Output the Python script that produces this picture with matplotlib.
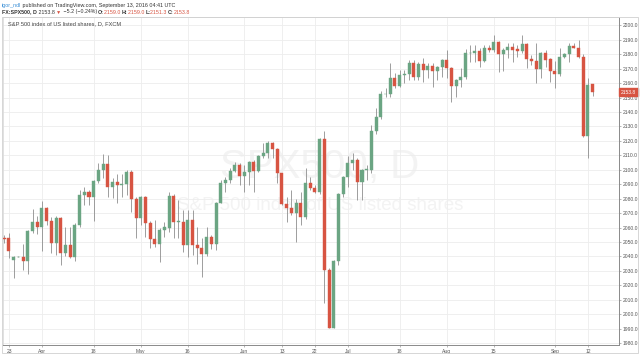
import matplotlib
matplotlib.use("Agg")
import numpy as np
import pandas as pd
import matplotlib.pyplot as plt
from matplotlib.patches import Rectangle

# FXCM SPX500 daily bars, 22 Mar - 13 Sep 2016 (CFD trades on US holidays too)
first_day = "2016-03-22"
last_day = "2016-09-13"

opens = [2052.5, 2052.6, 2037.8, 2039.6, 2039.6, 2036.9, 2057.6, 2063.9, 2060.2, 2073.3,
         2064.8, 2049.1, 2066.6, 2042.2, 2048.0, 2039.9, 2061.8, 2082.3, 2084.4, 2080.9,
         2092.2, 2099.9, 2103.8, 2088.3, 2091.8, 2089.8, 2090.0, 2098.7, 2079.6, 2066.4,
         2080.9, 2063.4, 2052.3, 2048.6, 2058.3, 2059.5, 2081.9, 2064.1, 2064.1, 2047.9,
         2065.2, 2047.9, 2046.1, 2041.7, 2053.3, 2048.6, 2077.2, 2091.1, 2092.9, 2099.4,
         2103.1, 2095.7, 2098.7, 2105.2, 2099.4, 2109.5, 2111.4, 2118.3, 2114.4, 2097.5,
         2076.1, 2073.3, 2070.3, 2077.2, 2067.6, 2091.1, 2087.2, 2084.6, 2121.1, 2030.7,
         1990.7, 2036.9, 2083.3, 2095.2, 2104.5, 2106.8, 2091.8, 2099.9, 2099.9, 2126.9,
         2136.8, 2152.2, 2152.2, 2163.3, 2158.2, 2165.6, 2166.0, 2174.1, 2164.4, 2173.2,
         2169.0, 2171.8, 2168.6, 2170.9, 2176.0, 2170.2, 2158.0, 2162.1, 2164.0, 2180.6,
         2180.6, 2182.2, 2175.3, 2184.5, 2182.9, 2188.2, 2180.1, 2182.9, 2185.2, 2183.6,
         2182.2, 2186.8, 2176.4, 2175.3, 2169.5, 2180.6, 2176.4, 2168.6, 2166.3, 2178.3,
         2179.9, 2185.9, 2184.5, 2178.3, 2123.4, 2159.0]
highs = [2055.0, 2056.5, 2040.5, 2040.0, 2048.9, 2058.0, 2073.1, 2068.0, 2078.6, 2074.5,
         2067.1, 2068.0, 2067.5, 2060.6, 2060.6, 2063.0, 2086.0, 2087.9, 2086.0, 2093.0,
         2104.5, 2110.9, 2110.2, 2094.0, 2096.9, 2096.9, 2099.9, 2099.5, 2081.0, 2081.8,
         2082.0, 2064.5, 2065.2, 2060.0, 2064.1, 2084.9, 2083.0, 2079.1, 2072.2, 2072.2,
         2072.2, 2060.6, 2052.6, 2060.2, 2055.0, 2078.0, 2093.0, 2095.2, 2101.0, 2105.6,
         2104.5, 2103.3, 2106.0, 2106.8, 2110.2, 2118.8, 2120.2, 2119.5, 2115.0, 2098.0,
         2081.4, 2086.0, 2080.0, 2084.9, 2101.0, 2095.2, 2089.5, 2122.0, 2127.0, 2032.0,
         2037.5, 2084.0, 2096.0, 2109.2, 2111.9, 2108.0, 2100.5, 2103.4, 2131.0, 2142.5,
         2154.8, 2156.4, 2173.7, 2166.8, 2169.0, 2169.0, 2176.0, 2176.0, 2174.8, 2177.2,
         2173.7, 2173.7, 2172.0, 2176.5, 2182.9, 2171.0, 2163.0, 2170.2, 2183.6, 2186.4,
         2186.4, 2184.5, 2186.4, 2186.4, 2193.3, 2189.0, 2184.0, 2187.5, 2187.5, 2186.4,
         2193.3, 2187.5, 2179.4, 2187.5, 2181.7, 2182.9, 2177.0, 2175.0, 2184.0, 2180.5,
         2187.5, 2187.5, 2189.8, 2180.0, 2163.3, 2159.0]
lows = [2049.0, 2038.7, 2024.9, 2039.3, 2030.6, 2027.9, 2056.5, 2055.5, 2044.0, 2062.0,
        2042.2, 2041.0, 2034.1, 2040.0, 2038.8, 2037.1, 2060.5, 2075.6, 2075.6, 2064.8,
        2091.0, 2094.0, 2080.9, 2080.2, 2077.3, 2081.4, 2082.5, 2071.0, 2052.6, 2062.0,
        2053.7, 2045.6, 2046.8, 2036.4, 2053.7, 2057.0, 2052.6, 2052.6, 2043.3, 2039.9,
        2041.0, 2034.8, 2026.1, 2040.0, 2045.0, 2044.5, 2076.8, 2084.9, 2090.6, 2098.7,
        2089.5, 2084.9, 2089.5, 2084.9, 2098.5, 2108.0, 2108.0, 2107.9, 2090.6, 2075.6,
        2064.1, 2068.7, 2050.3, 2061.8, 2066.0, 2086.0, 2083.7, 2083.0, 2007.6, 1990.3,
        1990.5, 2034.0, 2081.5, 2088.3, 2100.0, 2079.1, 2079.1, 2092.9, 2098.0, 2125.0,
        2135.0, 2150.6, 2150.5, 2156.4, 2157.5, 2159.8, 2162.1, 2162.1, 2162.0, 2161.0,
        2163.3, 2157.5, 2162.1, 2164.5, 2163.3, 2147.1, 2150.6, 2157.5, 2163.0, 2174.8,
        2174.8, 2171.4, 2174.5, 2181.7, 2181.5, 2167.9, 2168.0, 2177.1, 2174.8, 2178.3,
        2181.0, 2170.2, 2172.5, 2159.8, 2163.3, 2171.4, 2161.0, 2156.4, 2165.0, 2177.1,
        2174.8, 2184.0, 2177.1, 2123.0, 2108.4, 2151.3]
closes = [2052.2, 2044.0, 2039.6, 2039.8, 2036.9, 2057.6, 2063.9, 2060.2, 2073.3, 2064.8,
          2049.1, 2066.6, 2042.2, 2048.0, 2039.9, 2061.8, 2082.3, 2084.4, 2080.9, 2092.2,
          2099.9, 2103.8, 2087.9, 2091.8, 2089.5, 2090.2, 2098.7, 2079.6, 2066.4, 2080.9,
          2063.4, 2052.3, 2048.6, 2058.3, 2060.2, 2081.9, 2064.1, 2064.4, 2047.9, 2065.2,
          2047.9, 2046.1, 2041.7, 2053.3, 2048.6, 2077.2, 2091.1, 2092.9, 2099.4, 2103.1,
          2095.7, 2098.7, 2105.2, 2099.4, 2109.5, 2111.4, 2118.3, 2114.4, 2097.5, 2076.1,
          2073.3, 2070.3, 2077.2, 2067.6, 2091.1, 2087.2, 2084.6, 2121.1, 2030.7, 1990.7,
          2036.9, 2083.3, 2095.2, 2104.5, 2106.8, 2091.8, 2099.9, 2100.1, 2126.9, 2136.8,
          2152.2, 2152.5, 2163.3, 2158.2, 2165.6, 2166.0, 2174.1, 2164.4, 2173.2, 2169.0,
          2171.8, 2168.6, 2171.0, 2175.8, 2170.2, 2158.0, 2162.1, 2164.4, 2180.6, 2180.8,
          2182.2, 2175.3, 2184.5, 2182.9, 2188.2, 2180.1, 2182.9, 2185.2, 2182.9, 2182.2,
          2186.8, 2176.4, 2175.3, 2169.5, 2180.6, 2176.0, 2168.6, 2166.3, 2178.3, 2179.9,
          2185.7, 2184.5, 2178.3, 2123.4, 2158.7, 2153.8]

tick_dates = ["2016-03-23", "2016-04-01", "2016-04-18", "2016-05-02", "2016-05-16",
              "2016-06-01", "2016-06-13", "2016-06-22", "2016-07-01", "2016-07-18",
              "2016-08-01", "2016-08-15", "2016-09-01", "2016-09-12"]
tick_labels = ["23", "Apr", "18", "May", "16", "Jun", "13", "22", "Jul", "18",
               "Aug", "15", "Sep", "12"]
price_ticks = list(range(1980, 2201, 10))

UP = "#6ba583"
DOWN = "#d75442"
WICK = "#8e8e8e"
W, H = 640, 356

plt.rcParams["font.family"] = ["Liberation Sans", "DejaVu Sans"]

days = pd.bdate_range(first_day, last_day)
df = pd.DataFrame({"open": opens, "high": highs, "low": lows, "close": closes}, index=days)
df["x"] = np.arange(len(df)) - 1  # Mar 23 sits at x = 0


def fx(px):
    return px / W


def fy(py):
    return 1 - py / H


fig = plt.figure(figsize=(W / 100, H / 100), dpi=100)
fig.patch.set_facecolor("white")
ax = fig.add_axes([fx(3), fy(345), fx(619) - fx(3), fy(17) - fy(345)])

# watermark
ax.text(0.5, fy(167), "SPX500, D", transform=fig.transFigure, ha="center", va="center",
        fontsize=29, color="#f3f3f3", zorder=0)
ax.text(0.5, fy(205), "S&P 500 index of US listed shares", transform=fig.transFigure,
        ha="center", va="center", fontsize=13.5, color="#f3f3f3", zorder=0)

up = df["close"] >= df["open"]
colors = np.where(up, UP, DOWN)
ax.vlines(df["x"], df["low"], df["high"], color=WICK, lw=0.6, zorder=2)
body_h = (df["close"] - df["open"]).abs().clip(lower=0.35)
body_b = df[["open", "close"]].min(axis=1)
ax.bar(df["x"], body_h, bottom=body_b, width=0.64, color=colors, edgecolor=colors,
       linewidth=0.3, zorder=3)

ax.set_xlim(-1.27, 129.6)
ax.set_ylim(1978.75, 2205.7)

tick_pos = [int(df.loc[d, "x"]) for d in tick_dates]
ax.set_xticks(tick_pos)
ax.set_xticklabels(tick_labels)
ax.set_yticks(price_ticks)
ax.set_yticklabels([f"{p:.1f}" for p in price_ticks])
ax.yaxis.tick_right()
ax.tick_params(axis="both", length=1.5, width=0.5, color="#999999", labelsize=3.6,
               labelcolor="#555555", pad=1.2)
ax.grid(True, color="#ededed", lw=0.6, zorder=0)
ax.set_axisbelow(True)
for side in ["top", "left"]:
    ax.spines[side].set_color("#dcdcdc")
    ax.spines[side].set_linewidth(0.6)
for side in ["bottom", "right"]:
    ax.spines[side].set_color("#8a8a8a")
    ax.spines[side].set_linewidth(0.7)

# last price flag on the price scale
last = df["close"].iloc[-1]
ax.text(1.003, last, f"{last:.1f}", transform=ax.get_yaxis_transform(), ha="left",
        va="center", fontsize=3.6, color="white",
        bbox=dict(boxstyle="square,pad=0.35", fc=DOWN, ec=DOWN))

# outer chart frame
fig.patches.append(Rectangle((fx(2), fy(353)), fx(638) - fx(2), fy(17) - fy(353),
                             transform=fig.transFigure, fill=False, ec="#d0d0d0", lw=0.6))

ax.text(fx(8) - fx(3), 1 - (24 - 17) / (345 - 17), "S&P 500 index of US listed shares, D, FXCM",
        transform=ax.transAxes, ha="left", va="center", fontsize=4.1, color="#444444")

renderer = fig.canvas.get_renderer()


def put_parts(x_px, y_px, parts, size):
    x = fx(x_px)
    for text, color, weight in parts:
        t = fig.text(x, fy(y_px), text, color=color, fontsize=size, fontweight=weight,
                     ha="left", va="center")
        x += t.get_window_extent(renderer).width / W


dark = "#333333"
put_parts(2, 5, [("igor_ndl", "#3a8fd6", "normal"),
                 (" published on TradingView.com, September 13, 2016 04:41 UTC", dark, "normal")], 3.9)
put_parts(2, 12, [("FX:SPX500, D", dark, "bold"), (" 2153.8 ", dark, "normal"),
                  ("▼", DOWN, "normal"), (" −5.2 (−0.24%) ", dark, "normal"),
                  ("O:", dark, "bold"), ("2159.0 ", DOWN, "normal"),
                  ("H:", dark, "bold"), ("2159.0 ", DOWN, "normal"),
                  ("L:", dark, "bold"), ("2151.3 ", DOWN, "normal"),
                  ("C:", dark, "bold"), ("2153.8", DOWN, "normal")], 3.8)

fig.savefig("out.png", dpi=100, facecolor="white")
